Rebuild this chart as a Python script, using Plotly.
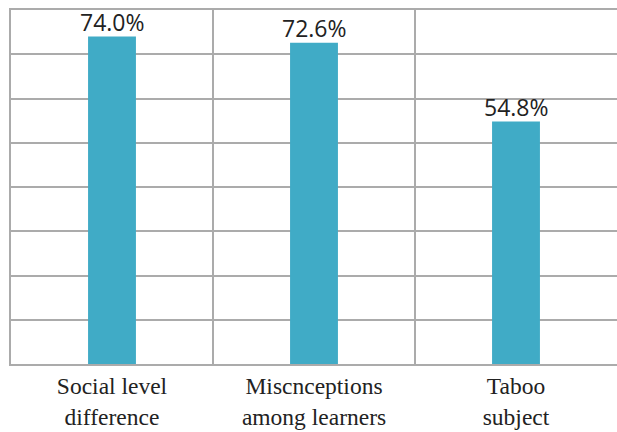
import plotly.graph_objects as go

categories = ["Social level<br>difference", "Miscnceptions<br>among learners", "Taboo<br>subject"]
values = [74.0, 72.6, 54.8]
value_labels = ["74.0%", "72.6%", "54.8%"]

grid_color = "#ABABAB"
bar_color = "#40ABC6"

fig = go.Figure(
    go.Bar(
        x=categories,
        y=values,
        marker=dict(color=bar_color, line=dict(width=0)),
        width=0.237,
        hoverinfo="x+y",
    )
)

# value labels sitting just above each bar
for cat, val, lab in zip(categories, values, value_labels):
    fig.add_annotation(
        x=cat,
        y=val,
        text=lab,
        showarrow=False,
        yanchor="bottom",
        yshift=-3,
        font=dict(family="Open Sans", size=23, color="#222222"),
    )

fig.update_layout(
    width=617,
    height=432,
    margin=dict(l=11, r=0, t=10, b=68),
    paper_bgcolor="white",
    plot_bgcolor="white",
    showlegend=False,
    xaxis=dict(
        type="category",
        tickson="boundaries",
        showgrid=True,
        gridcolor=grid_color,
        gridwidth=2,
        showline=True,
        mirror=True,
        linecolor=grid_color,
        linewidth=2,
        ticks="",
        tickfont=dict(family="Liberation Serif, Times New Roman, serif", size=23.5, color="#222222"),
        range=[-0.5, 2.5],
    ),
    yaxis=dict(
        range=[0, 80],
        dtick=10,
        showticklabels=False,
        showgrid=True,
        gridcolor=grid_color,
        gridwidth=2,
        zeroline=False,
        showline=True,
        linecolor=grid_color,
        linewidth=2,
        ticks="",
    ),
)

fig.write_html("out.html")
